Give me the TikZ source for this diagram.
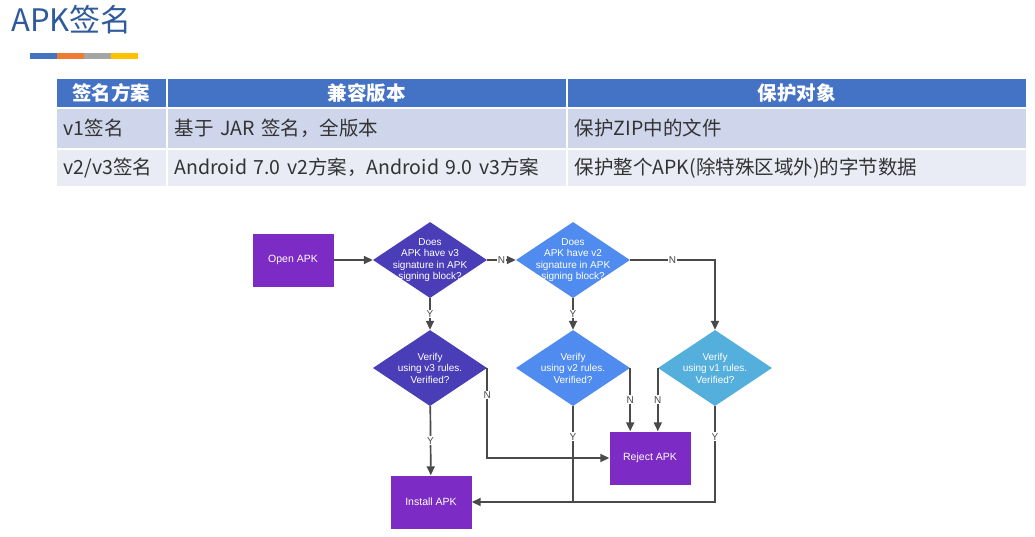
\documentclass[tikz,border=0pt]{standalone}
\usepackage{fontspec}
\usepackage{xcolor}
\usepackage{tikz}
\usetikzlibrary{arrows.meta,positioning,shapes.geometric,calc}
\setmainfont{Liberation Sans}
\newfontfamily\cjk{Noto Sans CJK SC}

\definecolor{titleblue}{HTML}{2F5B9C}
\definecolor{hdrblue}{HTML}{4472C4}
\definecolor{rowa}{HTML}{CFD5EA}
\definecolor{rowb}{HTML}{E9EBF5}
\definecolor{barorange}{HTML}{ED7D31}
\definecolor{bargray}{HTML}{A5A5A5}
\definecolor{baryellow}{HTML}{FFC000}
\definecolor{boxpurple}{HTML}{7C2CC4}
\definecolor{vthree}{HTML}{4A3EB8}
\definecolor{vtwo}{HTML}{508CF0}
\definecolor{vone}{HTML}{55AFDC}
\definecolor{linegray}{HTML}{4A4A4A}

\begin{document}
\begin{tikzpicture}[
    x=1pt, y=-1pt,
    hcell/.style={draw=white, line width=1.5pt, fill=hdrblue, anchor=north west, inner xsep=6pt, inner ysep=0pt,
                  minimum height=30pt, align=center, text=white, font=\cjk\bfseries\fontsize{19.5}{21}\selectfont},
    bcell/.style={draw=white, line width=1.5pt, anchor=north west, inner xsep=8pt, inner ysep=0pt,
                  align=left, text=black!80, font=\cjk\fontsize{19.5}{21}\selectfont},
    apkbox/.style={rectangle, fill=boxpurple, minimum width=81pt, minimum height=53pt, text=white,
                   font=\fontsize{10.5}{12}\selectfont},
    dia/.style={diamond, minimum width=114pt, minimum height=76pt, inner sep=0pt},
    dtext/.style={text=white, align=center, font=\fontsize{10}{11.5}\selectfont},
    arr/.style={-{Triangle[length=9pt,width=8pt]}, line width=1.7pt, draw=linegray},
    conn/.style={line width=1.7pt, draw=linegray},
    lbl/.style={fill=white, inner sep=1pt, text=linegray, font=\fontsize{10}{11}\selectfont}
]
  \useasboundingbox (0,0) rectangle (1035,536);

  % title and colour bar
  \node[anchor=west, text=titleblue, inner sep=0pt, font=\cjk\fontsize{31}{34}\selectfont] (title) at (11,20) {APK签名};
  \fill[hdrblue]    (30,53) rectangle (57,59);
  \fill[barorange]  (57,53) rectangle (84,59);
  \fill[bargray]    (84,53) rectangle (111,59);
  \fill[baryellow]  (111,53) rectangle (138,59);

  % table
  \node[hcell, minimum width=111pt, text width=99pt]  (h1) at (55,77)  {签名方案};
  \node[hcell, minimum width=400pt, text width=388pt] (h2) at (166,77) {兼容版本};
  \node[hcell, minimum width=460pt, text width=448pt] (h3) at (566,77) {保护对象};

  \node[bcell, fill=rowa, minimum height=41pt, text width=95pt]  (a1) at (55,107)  {v1签名};
  \node[bcell, fill=rowa, minimum height=41pt, text width=384pt] (a2) at (166,107) {基于 JAR 签名，全版本};
  \node[bcell, fill=rowa, minimum height=41pt, text width=444pt] (a3) at (566,107) {保护ZIP中的文件};

  \node[bcell, fill=rowb, minimum height=38pt, text width=95pt]  (b1) at (55,148)  {v2/v3签名};
  \node[bcell, fill=rowb, minimum height=38pt, text width=384pt] (b2) at (166,148) {Android 7.0 v2方案，Android 9.0 v3方案};
  \node[bcell, fill=rowb, minimum height=38pt, text width=444pt] (b3) at (566,148) {保护整个APK(除特殊区域外)的字节数据};

  % flow chart
  \node[apkbox] (open) at (293,260) {Open APK};
  \node[dia, fill=vthree, label={[dtext]center:{Does\\APK have v3\\signature in APK\\signing block?}}] (chk3) at (430,260) {};
  \node[dia, fill=vtwo, label={[dtext]center:{Does\\APK have v2\\signature in APK\\signing block?}}] (chk2) at (573,260) {};
  \node[dia, fill=vthree, label={[dtext]center:{Verify\\using v3 rules.\\Verified?}}] (ver3) at (430,368) {};
  \node[dia, fill=vtwo, label={[dtext]center:{Verify\\using v2 rules.\\Verified?}}] (ver2) at (573,368) {};
  \node[dia, fill=vone, label={[dtext]center:{Verify\\using v1 rules.\\Verified?}}] (ver1) at (715,368) {};
  \node[apkbox] (reject) at (650,458) {Reject APK};
  \node[apkbox] (install) at (431,502) {Install APK};

  \draw[arr] (open) -- (chk3);
  \draw[arr] (chk3) -- node[lbl]{N} (chk2);
  \draw[arr] (chk3) -- node[lbl]{Y} (ver3);
  \draw[arr] (chk2.east) -| node[lbl, pos=0.25]{N} (ver1);
  \draw[arr] (chk2) -- node[lbl]{Y} (ver2);

  \draw[arr] (ver3.east) |- node[lbl, pos=0.15]{N} (reject.west);
  \draw[arr] (ver2.east) -- node[lbl]{N} (ver2.east |- reject.north);
  \draw[arr] (ver1.west) -- node[lbl]{N} (ver1.west |- reject.north);

  \draw[arr] (ver3) -- node[lbl]{Y} (install);
  \draw[conn] (ver2.south) -- node[lbl, pos=0.32]{Y} (ver2.south |- install.east);
  \draw[arr] (ver1.south) |- node[lbl, pos=0.16]{Y} (install.east);
\end{tikzpicture}
\end{document}
